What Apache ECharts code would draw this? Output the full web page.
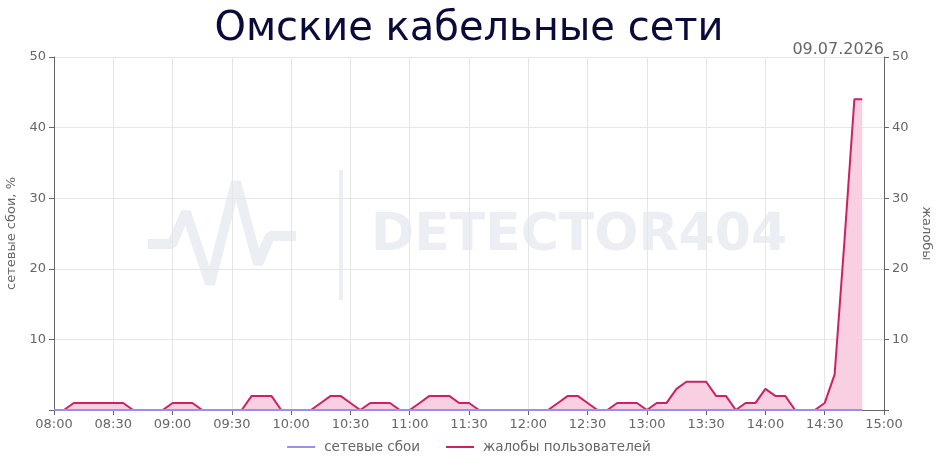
<!DOCTYPE html>
<html>
<head>
<meta charset="UTF-8">
<title>Омские кабельные сети</title>
<script src="https://cdn.jsdelivr.net/npm/echarts@6/dist/echarts.min.js"></script>
<style>
  html, body { margin: 0; padding: 0; background: #fff; }
</style>
</head>
<body>
	<div id="main" style="width: 938px; height: 468px;"></div>

	<script type="text/javascript">
		// время замеров (чч:мм)
		var times = ['08:00', '08:05', '08:10', '08:15', '08:20', '08:25', '08:30', '08:35', '08:40', '08:45',
			'08:50', '08:55', '09:00', '09:05', '09:10', '09:15', '09:20', '09:25', '09:30', '09:35',
			'09:40', '09:45', '09:50', '09:55', '10:00', '10:05', '10:10', '10:15', '10:20', '10:25',
			'10:30', '10:35', '10:40', '10:45', '10:50', '10:55', '11:00', '11:05', '11:10', '11:15',
			'11:20', '11:25', '11:30', '11:35', '11:40', '11:45', '11:50', '11:55', '12:00', '12:05',
			'12:10', '12:15', '12:20', '12:25', '12:30', '12:35', '12:40', '12:45', '12:50', '12:55',
			'13:00', '13:05', '13:10', '13:15', '13:20', '13:25', '13:30', '13:35', '13:40', '13:45',
			'13:50', '13:55', '14:00', '14:05', '14:10', '14:15', '14:20', '14:25', '14:30', '14:35',
			'14:40', '14:45', '14:49'];
		// жалобы пользователей
		var complaints = [0, 0, 1, 1, 1, 1, 1, 1, 0, 0,
			0, 0, 1, 1, 1, 0, 0, 0, 0, 0,
			2, 2, 2, 0, 0, 0, 0, 1, 2, 2,
			1, 0, 1, 1, 1, 0, 0, 1, 2, 2,
			2, 1, 1, 0, 0, 0, 0, 0, 0, 0,
			0, 1, 2, 2, 1, 0, 0, 1, 1, 1,
			0, 1, 1, 3, 4, 4, 4, 2, 2, 0,
			1, 1, 3, 2, 2, 0, 0, 0, 1, 5,
			24, 44, 44];
		// сетевые сбои, %
		var failures = [0, 0, 0, 0, 0, 0, 0, 0, 0, 0,
			0, 0, 0, 0, 0, 0, 0, 0, 0, 0,
			0, 0, 0, 0, 0, 0, 0, 0, 0, 0,
			0, 0, 0, 0, 0, 0, 0, 0, 0, 0,
			0, 0, 0, 0, 0, 0, 0, 0, 0, 0,
			0, 0, 0, 0, 0, 0, 0, 0, 0, 0,
			0, 0, 0, 0, 0, 0, 0, 0, 0, 0,
			0, 0, 0, 0, 0, 0, 0, 0, 0, 0,
			0, 0, 0];
		var yTicks = [10, 20, 30, 40, 50];

		function toMin(t) {
			var p = t.split(':');
			return +p[0] * 60 + +p[1];
		}
		function fmt(v) {
			var h = Math.floor(v / 60), m = v % 60;
			return (h < 10 ? '0' : '') + h + ':' + (m < 10 ? '0' : '') + m;
		}
		function pairs(arr) {
			return times.map(function (t, i) { return [toMin(t), arr[i]]; });
		}
		function yLabel(v) {
			return yTicks.indexOf(v) >= 0 ? v : '';
		}

		var gray = '#666';
		var wm = '#ebeef2';
		var myChart = echarts.init(document.getElementById('main'));
		myChart.setOption({
			animation : false,
			textStyle : { fontFamily : 'DejaVu Sans' },
			title : [ {
				text : 'Омские кабельные сети',
				left : 'center',
				top : 5,
				textStyle : { fontSize : 40, fontWeight : 'normal', color : '#0b0b3b', fontFamily : 'DejaVu Sans' }
			}, {
				text : '09.07.2026',
				right : 49,
				top : 37,
				textStyle : { fontSize : 16, fontWeight : 'normal', color : gray, fontFamily : 'DejaVu Sans' }
			} ],
			graphic : [ {
				type : 'polyline',
				z : -1,
				shape : { points : [ [148, 244], [172, 244], [186, 212], [210, 284], [236, 182], [258, 264], [270, 236], [296, 236] ] },
				style : { stroke : wm, lineWidth : 10, fill : null, lineJoin : 'bevel' }
			}, {
				type : 'rect',
				z : -1,
				shape : { x : 339, y : 170, width : 4, height : 130 },
				style : { fill : wm }
			}, {
				type : 'text',
				z : -1,
				left : 371,
				top : 210,
				style : { text : 'DETECTOR404', fontSize : 52, fontWeight : 'bold', fill : wm, fontFamily : 'DejaVu Sans' }
			} ],
			legend : {
				bottom : 9,
				left : 'center',
				itemWidth : 28,
				itemHeight : 2,
				itemGap : 26,
				icon : 'rect',
				textStyle : { color : gray, fontSize : 13.5, padding : [0, 0, 0, 4] },
				data : [ 'сетевые сбои', 'жалобы пользователей' ]
			},
			grid : { left : 54, right : 54, top : 57, bottom : 58, outerBoundsMode : 'none' },
			xAxis : {
				type : 'value',
				min : 480,
				max : 900,
				interval : 30,
				axisLine : { lineStyle : { color : gray } },
				axisTick : { show : true, length : 5, lineStyle : { color : gray } },
				axisLabel : { color : gray, fontSize : 13, formatter : fmt },
				splitLine : { show : true, lineStyle : { color : '#e6e6e6' } }
			},
			yAxis : [ {
				type : 'value',
				name : 'сетевые сбои, %',
				nameLocation : 'middle',
				nameGap : 31,
				nameTextStyle : { color : gray, fontSize : 13 },
				min : 0,
				max : 50,
				interval : 10,
				axisLine : { show : true, lineStyle : { color : gray } },
				axisTick : { show : true, length : 5, lineStyle : { color : gray } },
				axisLabel : { color : gray, fontSize : 13, formatter : yLabel },
				splitLine : { show : true, lineStyle : { color : '#e6e6e6' } }
			}, {
				type : 'value',
				name : 'жалобы',
				nameLocation : 'middle',
				nameGap : 25,
				nameRotate : -90,
				nameTextStyle : { color : gray, fontSize : 13 },
				min : 0,
				max : 50,
				interval : 10,
				axisLine : { show : true, lineStyle : { color : gray } },
				axisTick : { show : true, length : 5, lineStyle : { color : gray } },
				axisLabel : { color : gray, fontSize : 13, formatter : yLabel },
				splitLine : { show : false }
			} ],
			series : [ {
				name : 'жалобы пользователей',
				type : 'line',
				yAxisIndex : 1,
				data : pairs(complaints),
				showSymbol : false,
				color : '#cc2162',
				lineStyle : { width : 2, color : '#cc2162' },
				areaStyle : { color : '#f8d0e2', opacity : 1 }
			}, {
				name : 'сетевые сбои',
				type : 'line',
				yAxisIndex : 0,
				data : pairs(failures),
				showSymbol : false,
				color : '#9b8fe8',
				lineStyle : { width : 2, color : '#9b8fe8' }
			} ]
		});
	</script>
</body>
</html>
